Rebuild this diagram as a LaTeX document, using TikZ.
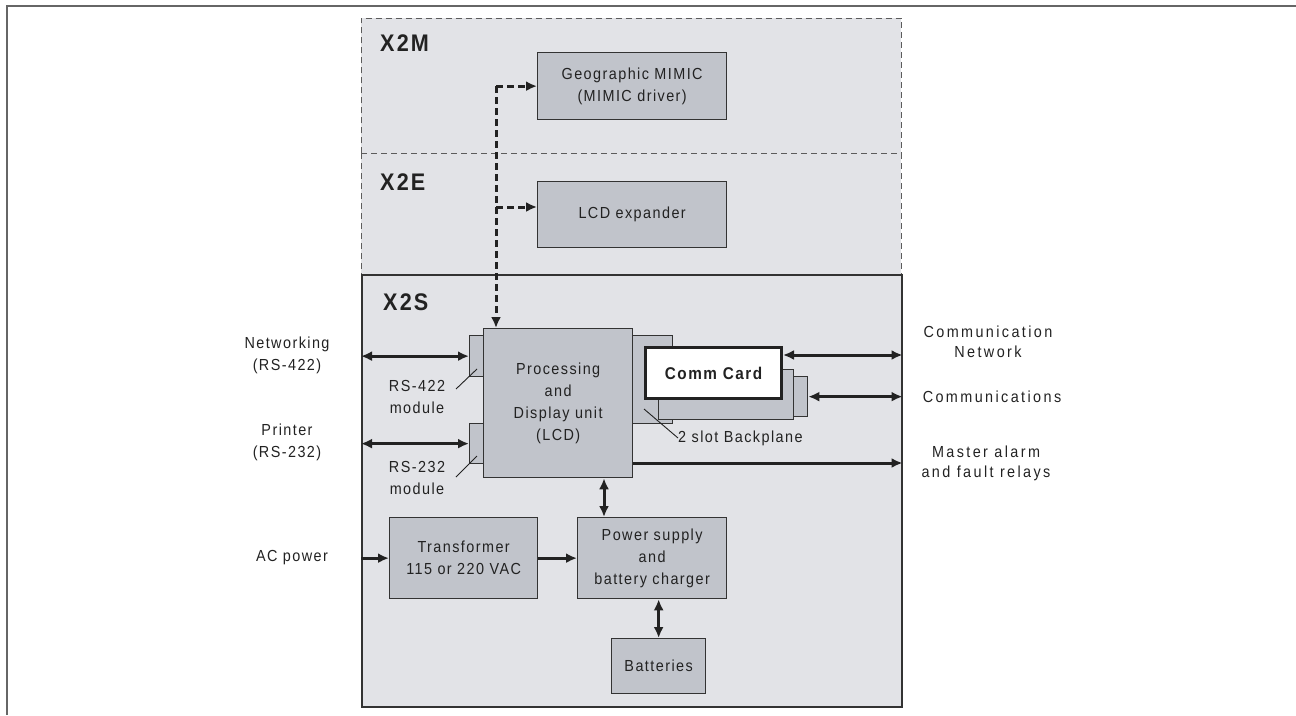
\documentclass[tikz,border=0pt]{standalone}
\usepackage{fontspec}
\setmainfont{Liberation Sans}[FakeStretch=0.9,LetterSpace=9]
\newfontfamily\widefont{Liberation Sans}[FakeStretch=0.9,LetterSpace=15]
\usetikzlibrary{arrows.meta,calc}
\definecolor{regionbg}{HTML}{E2E3E7}
\definecolor{blockbg}{HTML}{C1C4CB}
\definecolor{edge}{HTML}{333333}
\definecolor{framecol}{HTML}{666666}
\definecolor{txt}{HTML}{222222}
\begin{document}
\begin{tikzpicture}[x=1pt,y=-1pt,
  txtnode/.style={text=txt,font=\fontsize{16}{22}\selectfont,align=center,inner sep=0pt},
  widenode/.style={text=txt,font=\widefont\fontsize{16}{20}\selectfont,align=center,inner sep=0pt},
  title/.style={text=txt,font=\fontsize{24}{26}\selectfont\bfseries,anchor=west,inner sep=0pt},
  blk/.style={draw=edge,fill=blockbg,line width=1.3pt,inner sep=0pt,anchor=north west,
    text=txt,font=\fontsize{16}{22}\selectfont,align=center},
  regiondash/.style={draw=edge!80,line width=1pt,dash pattern=on 6pt off 4pt},
  arr/.style={draw=txt,line width=3pt,-{Latex[length=11pt,width=10pt]}},
  darr/.style={draw=txt,line width=3pt,{Latex[length=11pt,width=10pt]}-{Latex[length=11pt,width=10pt]}},
  dasharr/.style={draw=txt,line width=3pt,dash pattern=on 7pt off 4pt,-{Latex[length=11pt,width=10pt]}},
  leader/.style={draw=txt,line width=0.9pt}
]
\useasboundingbox (0,0) rectangle (1296,715);
% outer frame (top and left edges)
\draw[framecol,line width=2pt] (7,715) -- (7,5.5) -- (1296,5.5);

% regions
\node[fill=regionbg,inner sep=0pt,anchor=north west,minimum width=540pt,minimum height=135pt] (x2m) at (361,18) {};
\node[fill=regionbg,inner sep=0pt,anchor=north west,minimum width=540pt,minimum height=121pt] (x2e) at (361,153) {};
\draw[regiondash] (x2m.south west) -- (x2m.north west) -- (x2m.north east) -- (x2m.south east);
\draw[regiondash] (x2m.south west) -- (x2m.south east);
\draw[regiondash] (x2e.north west) -- (x2e.south west);
\draw[regiondash] (x2e.north east) -- (x2e.south east);
\node[draw=edge,fill=regionbg,line width=1.5pt,inner sep=0pt,anchor=north west,minimum width=540pt,minimum height=432pt] (x2s) at (361,274) {};

\node[title] (t2m) at (380,43) {X2M};
\node[title] (t2e) at (380,182) {X2E};
\node[title] (t2s) at (383,302) {X2S};

% blocks
\node[blk,minimum width=189pt,minimum height=67pt] (mimic) at (537,52) {Geographic MIMIC\\(MIMIC driver)};
\node[blk,minimum width=189pt,minimum height=66pt] (lcdexp) at (537,181) {LCD expander};

\node[blk,minimum width=40pt,minimum height=88pt] (bpback) at (632,335) {};
\node[blk,minimum width=135pt,minimum height=50pt] (card2) at (658,369) {};
\node[blk,minimum width=14pt,minimum height=40pt] (card3) at (793,376) {};
\node[draw=txt,fill=white,line width=3pt,inner sep=0pt,anchor=north west,minimum width=136pt,minimum height=51pt,
  text=txt,font=\fontsize{17}{20}\selectfont\bfseries] (comm) at (644,346) {Comm Card};

\node[blk,minimum width=14pt,minimum height=41pt] (rs422) at (469,335) {};
\node[blk,minimum width=14pt,minimum height=40pt] (rs232) at (469,423) {};
\node[blk,minimum width=149pt,minimum height=149pt] (proc) at (483,328) {Processing\\and\\Display unit\\(LCD)};

\node[blk,minimum width=148pt,minimum height=81pt] (trans) at (389,517) {Transformer\\115 or 220 VAC};
\node[blk,minimum width=149pt,minimum height=81pt] (psu) at (577,517) {Power supply\\and\\battery charger};
\node[blk,minimum width=94pt,minimum height=55pt] (batt) at (611,638) {Batteries};

% outside labels
\node[txtnode] (lnet) at (287,355) {Networking\\(RS-422)};
\node[txtnode] (lprn) at (287,442) {Printer\\(RS-232)};
\node[txtnode] (lac) at (292,558) {AC power};
\node[txtnode] (l422) at (417,397) {RS-422\\module};
\node[txtnode] (l232) at (417,478) {RS-232\\module};
\node[txtnode,anchor=west] (lbp) at (678,438) {2 slot Backplane};
\node[widenode] (lcn) at (988,342) {Communication\\Network};
\node[widenode] (lcom) at (992,397) {Communications};
\node[widenode] (lma) at (986,463) {Master alarm\\and fault relays};

% helper coordinates
\coordinate (ycn) at (0,355);
\coordinate (yma) at (0,463);
\coordinate (xpv) at (604,0);
\coordinate (xdash) at (496,0);
\coordinate (ylcd) at (0,207);

% leaders
\draw[leader] (456,389) -- (477,369);
\draw[leader] (456,477) -- (477,456);
\draw[leader] (644,409) -- (lbp.west);

% connectors
\draw[darr] (rs422.west -| x2s.west) -- (rs422.west);
\draw[darr] (rs232.west -| x2s.west) -- (rs232.west);
\draw[darr] (comm.east |- ycn) -- (x2s.east |- ycn);
\draw[darr] (card3.east) -- (card3.east -| x2s.east);
\draw[arr] (proc.east |- yma) -- (x2s.east |- yma);
\draw[darr] (xpv |- proc.south) -- (xpv |- psu.north);
\draw[darr] (batt.north |- psu.south) -- (batt.north);
\draw[arr] (trans.west -| x2s.west) -- (trans.west);
\draw[arr] (trans.east) -- (psu.west);

% dashed bus
\draw[dasharr] (xdash |- mimic.west) -- (xdash |- proc.north);
\draw[dasharr] (xdash |- mimic.west) -- (mimic.west);
\draw[dasharr] (xdash |- ylcd) -- (lcdexp.west |- ylcd);
\end{tikzpicture}
\end{document}
